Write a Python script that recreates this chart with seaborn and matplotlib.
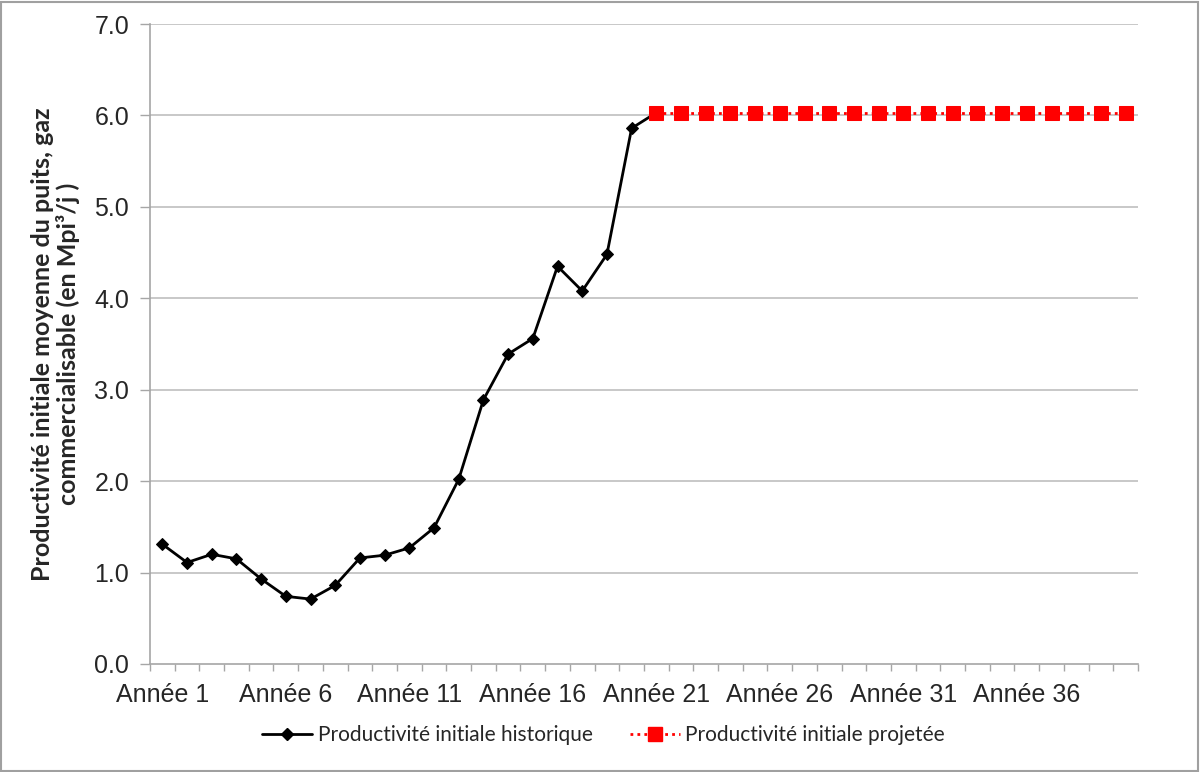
import matplotlib
matplotlib.use("Agg")
import matplotlib.pyplot as plt
import seaborn as sns
import pandas as pd
from matplotlib.ticker import FixedLocator
from matplotlib.lines import Line2D
from matplotlib.patches import Rectangle

categories = ["Année %d" % i for i in range(1, 41)]
hist_values = [1.31, 1.11, 1.20, 1.15, 0.93, 0.74, 0.71, 0.86, 1.16, 1.19,
               1.27, 1.49, 2.02, 2.89, 3.39, 3.56, 4.35, 4.08, 4.48, 5.86, 6.03]
proj_values = [6.03, 6.03, 6.03, 6.03, 6.03, 6.03, 6.03, 6.03, 6.03, 6.03,
               6.03, 6.03, 6.03, 6.03, 6.03, 6.03, 6.03, 6.03, 6.03, 6.03]
hist_label = "Productivité initiale historique"
proj_label = "Productivité initiale projetée"
ylabel = "Productivité initiale moyenne du puits, gaz\ncommercialisable (en Mpi³/j )"

sns.set_theme(style="white")
plt.rcParams['font.family'] = ['Liberation Sans', 'DejaVu Sans']

hist_df = pd.DataFrame({"x": list(range(len(hist_values))), "y": hist_values})
proj_start = len(hist_values) - 1
proj_df = pd.DataFrame({"x": list(range(proj_start, proj_start + len(proj_values))), "y": proj_values})

fig = plt.figure(figsize=(12, 7.72), dpi=100)
ax = fig.add_axes([0.125, 0.1399, 0.8233, 0.829])

for yv in range(1, 8):
    ax.axhline(yv, color="#bfbfbf", lw=1.2, zorder=0)

sns.lineplot(data=hist_df, x="x", y="y", ax=ax, color="black", lw=2.0,
             marker="D", markersize=6.5, markeredgecolor="black", zorder=3)
sns.lineplot(data=proj_df, x="x", y="y", ax=ax, color="#ff0000", lw=2.0,
             linestyle=(0, (1, 1.5)), marker="s", markersize=10,
             markeredgecolor="#ff0000", zorder=4)

ax.set_xlim(-0.5, len(categories) - 0.5)
ax.set_ylim(0, 7)
ax.set_yticks([i for i in range(8)])
ax.set_yticklabels(["%.1f" % i for i in range(8)], fontsize=18)
major = list(range(0, 40, 5))
ax.set_xticks(major)
ax.set_xticklabels([categories[i] for i in major], fontsize=18)
ax.xaxis.set_minor_locator(FixedLocator([i - 0.5 for i in range(41)]))
ax.tick_params(axis="x", which="major", length=0, pad=14)
ax.tick_params(axis="x", which="minor", length=5, color="#a6a6a6", width=1, direction="out", bottom=True)
ax.tick_params(axis="y", which="major", length=7, color="#a6a6a6", width=1, direction="out", left=True, pad=8)

for s in ["top", "right"]:
    ax.spines[s].set_visible(False)
for s in ["left", "bottom"]:
    ax.spines[s].set_color("#a6a6a6")
    ax.spines[s].set_linewidth(1.2)

ax.set_xlabel("")
ax.set_ylabel(ylabel, fontsize=18, fontweight="bold", family=["Lato", "DejaVu Sans"],
              linespacing=1.1, labelpad=10)

handles = [
    Line2D([], [], color="black", lw=2.0, marker="D", markersize=6.5),
    Line2D([], [], color="#ff0000", lw=2.0, linestyle=(0, (1, 1.5)), marker="s", markersize=10),
]
fig.legend(handles, [hist_label, proj_label], loc="center", bbox_to_anchor=(0.503, 0.048),
           ncol=2, frameon=False, prop={"family": ["Lato", "DejaVu Sans"], "size": 15},
           handlelength=2.4, columnspacing=1.8, handletextpad=0.25)

fig.patches.append(Rectangle((0.001, 0.001), 0.997, 0.997, transform=fig.transFigure,
                             fill=False, edgecolor="#a0a0a0", lw=1.5))

fig.savefig("out.png", dpi=100)
